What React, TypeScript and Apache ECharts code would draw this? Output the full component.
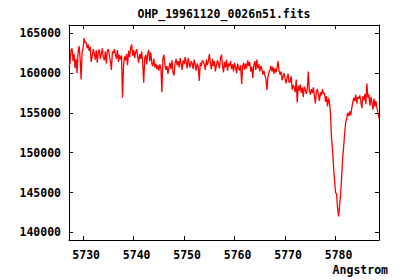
import React, { useEffect, useRef } from "react";
import * as echarts from "echarts";

const TITLE = "OHP_19961120_0026n51.fits";
const X_NAME = "Angstrom";
const WAVE_START = 5727.2;
const WAVE_STEP = 0.2;
const X_MIN = 5727.2;
const X_MAX = 5788.6;
const Y_MIN = 139040;
const Y_MAX = 166040;
const X_TICKS = [5730, 5740, 5750, 5760, 5770, 5780];
const Y_TICKS = [140000, 145000, 150000, 155000, 160000, 165000];

const FLUX = [
  160800, 161200, 162900, 163100, 161500, 162400, 160600, 161800, 160000, 162700,
  163400, 161900, 159200, 162600, 163200, 164400, 163800, 163900, 163100, 163600,
  162800, 163300, 161400, 162100, 163000, 162500, 161700, 162900, 161300, 162600,
  163000, 161800, 162400, 163100, 162000, 161600, 162700, 161200, 162800, 163000,
  162200, 161500, 160400, 162700, 162500, 163000, 162300, 161800, 162900, 161400,
  162300, 161700, 162200, 156900, 160800, 162100, 161600, 162400, 161000, 162800,
  162000, 163100, 163600, 162200, 162900, 161900, 162600, 163000, 162100, 161300,
  162400, 161800, 162700, 161200, 158800, 161900, 162300, 161100, 162500, 162900,
  161500, 162600, 161200, 160900, 161800, 160700, 161200, 160500, 161000, 160300,
  161100, 160600, 157600, 161800, 162300, 161000, 160400, 160900, 159900, 160700,
  161300, 160500, 161600, 160100, 159700, 161200, 161800, 161000, 161500, 160700,
  161900, 161200, 160400, 161600, 161100, 162000, 161400, 160600, 161900, 161300,
  160700, 161500, 161200, 160500, 161700, 161000, 160300, 161200, 160800, 159000,
  161300, 160900, 161600, 161400, 161100, 160400, 161700, 161000, 161500,
  162400, 161200, 160500, 161800, 160900, 161500, 160200, 161000, 161600, 161200,
  160600, 161900, 162300, 161000, 160100, 161400, 160700, 161700, 160300, 161200,
  160900, 161500, 160500, 161100, 160200, 161300, 160700, 160000, 161200, 160600,
  160300, 161000, 158600, 160800, 161300, 160400, 161200, 160600, 161600, 160900,
  161400, 160200, 160800, 159400, 161000, 161500, 160400, 161700, 160600, 161100,
  160200, 160900, 160500, 159800, 160300, 159700, 159300, 157900, 159500, 160100,
  160400, 160900, 160200, 160800, 159900, 160600, 160100, 160700, 161500, 160300,
  159800, 160200, 159100, 159600, 160000, 159300, 158700, 159400, 159900, 158800,
  158900, 159600, 157900, 158500, 158200, 157600, 159200, 156300, 158400, 157800,
  158600, 157500, 158200, 157000, 158300, 157900, 157400, 158000, 160200, 157800,
  157300, 158000, 157500, 158200, 157100, 156200, 157700, 158000, 157300, 156500,
  157600, 157200, 158000, 157400, 157500, 156400, 157100, 155800, 156900,
  156200, 154900, 151800, 150400, 148200, 146500, 145000, 144800, 143000, 142000,
  143400, 144800, 146900, 149300, 150800, 152400, 153800, 154300, 155000, 154600,
  155200, 154700, 155600, 156300, 156900, 156500, 157300, 156200, 157000, 156800,
  157200, 156400, 155600, 157100, 156600, 157400, 156100, 158700, 156900, 157300,
  155900, 157000, 156300, 155400, 156800, 155800, 156500, 155600, 155000, 154300,
];

const FONT = "'DejaVu Sans Mono', monospace";

export default function App() {
  const ref = useRef<HTMLDivElement>(null);
  useEffect(() => {
    if (!ref.current) return;
    const chart = echarts.init(ref.current, null, { renderer: "svg" });
    const data = FLUX.map((v, i) => [WAVE_START + i * WAVE_STEP, v]);
    const axisLineStyle = { color: "#000", width: 1 };
    const fmt = (v: number) => String(Math.round(v));
    chart.setOption({
      animation: false,
      backgroundColor: "#fff",
      grid: { left: 69, right: 21, top: 25, bottom: 40 },
      xAxis: [
        {
          type: "value",
          min: X_MIN,
          max: X_MAX,
          position: "bottom",
          axisLine: { show: true, onZero: false, lineStyle: axisLineStyle },
          axisTick: { show: true, inside: true, length: 4, customValues: X_TICKS, lineStyle: axisLineStyle },
          axisLabel: {
            show: true,
            customValues: X_TICKS,
            formatter: fmt,
            margin: 9,
            color: "#000",
            fontFamily: FONT,
            fontWeight: "bold",
            fontSize: 11.5,
            padding: [0, 0, 0, 6],
          },
          splitLine: { show: false },
        },
        {
          type: "value",
          min: X_MIN,
          max: X_MAX,
          position: "top",
          axisLine: { show: true, onZero: false, lineStyle: axisLineStyle },
          axisTick: { show: true, inside: true, length: 4, customValues: X_TICKS, lineStyle: axisLineStyle },
          axisLabel: { show: false },
          splitLine: { show: false },
        },
      ],
      yAxis: [
        {
          type: "value",
          min: Y_MIN,
          max: Y_MAX,
          position: "left",
          axisLine: { show: true, onZero: false, lineStyle: axisLineStyle },
          axisTick: { show: true, inside: true, length: 4, customValues: Y_TICKS, lineStyle: axisLineStyle },
          axisLabel: {
            show: true,
            customValues: Y_TICKS,
            formatter: fmt,
            margin: 8,
            color: "#000",
            fontFamily: FONT,
            fontWeight: "bold",
            fontSize: 11.5,
          },
          splitLine: { show: false },
        },
        {
          type: "value",
          min: Y_MIN,
          max: Y_MAX,
          position: "right",
          axisLine: { show: true, onZero: false, lineStyle: axisLineStyle },
          axisTick: { show: true, inside: true, length: 4, customValues: Y_TICKS, lineStyle: axisLineStyle },
          axisLabel: { show: false },
          splitLine: { show: false },
        },
      ],
      graphic: [
        {
          type: "text",
          x: 224,
          y: 14,
          style: {
            text: TITLE,
            fill: "#000",
            font: `bold 11.5px ${FONT}`,
            textAlign: "center",
            textVerticalAlign: "middle",
          },
        },
        {
          type: "text",
          x: 388,
          y: 270,
          style: {
            text: X_NAME,
            fill: "#000",
            font: `bold 11.5px ${FONT}`,
            textAlign: "right",
            textVerticalAlign: "middle",
          },
        },
      ],
      series: [
        {
          type: "line",
          xAxisIndex: 0,
          yAxisIndex: 0,
          data,
          showSymbol: false,
          symbol: "none",
          lineStyle: { color: "#ff0000", width: 1.3 },
          clip: true,
        },
      ],
    });
    return () => chart.dispose();
  }, []);
  return (
    <div
      ref={ref}
      style={{ position: "fixed", left: 0, top: 0, width: 400, height: 280, background: "#fff" }}
    />
  );
}
